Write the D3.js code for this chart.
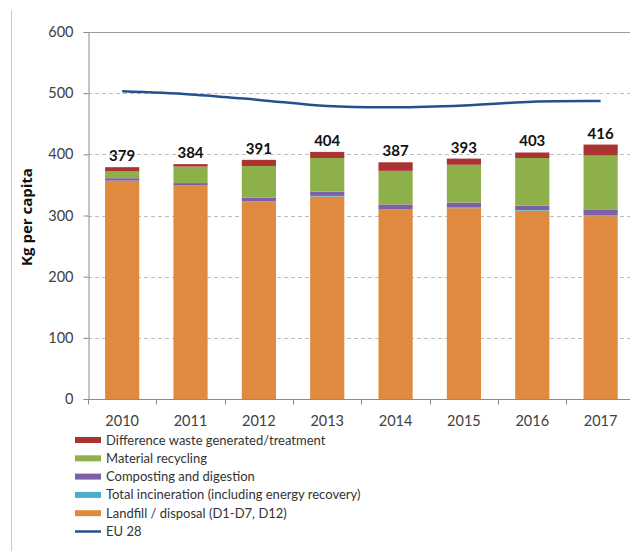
<!DOCTYPE html>
<html>
<head>
<meta charset="utf-8">
<script src="https://cdn.jsdelivr.net/npm/d3@7"></script>
<style>
  html, body { margin: 0; padding: 0; background: #fff; }
  svg { display: block; }
  text { font-family: Lato, "Open Sans", sans-serif; }
</style>
</head>
<body>
<svg id="chart" width="630" height="551"></svg>
<script>
const years = ["2010", "2011", "2012", "2013", "2014", "2015", "2016", "2017"];
const landfill    = [357, 349, 322, 331, 309, 312, 308, 299];
const incineration = [0, 0, 1, 1, 1, 1, 1, 1];
const composting  = [4, 4, 6, 7, 8, 8, 7, 10];
const recycling   = [11, 27, 52, 55, 55, 62, 78, 88];
const difference  = [7, 4, 10, 10, 14, 10, 9, 18];
const totals      = [379, 384, 391, 404, 387, 393, 403, 416];
const eu28        = [503, 498, 489, 479, 477, 480, 486, 487];
const yTicks      = [0, 100, 200, 300, 400, 500, 600];

const seriesNames = [
  "Landfill / disposal (D1-D7, D12)",
  "Total incineration (including energy recovery)",
  "Composting and digestion",
  "Material recycling",
  "Difference waste generated/treatment"
];
const seriesColors = ["#df8a3e", "#4aaec8", "#7e60a8", "#8eb04b", "#a93432"];
const seriesValues = [landfill, incineration, composting, recycling, difference];

const svg = d3.select("#chart");
const x0 = 88, yTop = 32, yBottom = 399;
const step = 68.35;

const x = d3.scaleBand().domain(years).range([x0, x0 + step * years.length])
  .paddingInner(0.5).paddingOuter(0.25);
const y = d3.scaleLinear().domain([0, 600]).range([yBottom, yTop]);

// outer frame (left edge)
svg.append("line").attr("x1", 11.5).attr("x2", 11.5).attr("y1", 10).attr("y2", 551)
  .attr("stroke", "#c8c8c8").attr("stroke-width", 1);

// gridlines
svg.append("g").selectAll("line").data(yTicks.filter(d => d > 0)).join("line")
  .attr("x1", x0).attr("x2", 630)
  .attr("y1", d => Math.round(y(d)) + 0.5).attr("y2", d => Math.round(y(d)) + 0.5)
  .attr("stroke", d => d === 600 ? "#9a9a9a" : "#bdbdbd")
  .attr("stroke-width", 1)
  .attr("stroke-dasharray", d => d === 600 ? null : "4,3");

// stacked bars
const table = years.map((yr, i) => {
  const o = { year: yr };
  seriesNames.forEach((s, k) => o[s] = seriesValues[k][i]);
  return o;
});
const stacked = d3.stack().keys(seriesNames)(table);
svg.append("g").selectAll("g").data(stacked).join("g")
  .attr("fill", (d, k) => seriesColors[k])
  .selectAll("rect").data(d => d).join("rect")
  .attr("x", d => x(d.data.year))
  .attr("width", x.bandwidth())
  .attr("y", d => y(d[1]))
  .attr("height", d => y(d[0]) - y(d[1]));

// total labels
svg.append("g").selectAll("text").data(years).join("text")
  .attr("x", d => x(d) + x.bandwidth() / 2)
  .attr("y", (d, i) => y(totals[i]) - 6)
  .attr("text-anchor", "middle")
  .attr("font-weight", "bold")
  .attr("font-size", "15px")
  .attr("fill", "#111")
  .text((d, i) => totals[i]);

// EU 28 line
const line = d3.line()
  .x((d, i) => x(years[i]) + x.bandwidth() / 2)
  .y(d => y(d))
  .curve(d3.curveCatmullRom.alpha(0.5));
svg.append("path").datum(eu28).attr("d", line)
  .attr("fill", "none").attr("stroke", "#24508f").attr("stroke-width", 2.5);

// y axis
const yAxis = d3.axisLeft(y).tickValues(yTicks).tickSize(5).tickPadding(10);
const gy = svg.append("g").attr("transform", `translate(${x0 + 0.5},0)`).call(yAxis);
gy.select(".domain").attr("stroke", "#8c8c8c");
gy.selectAll(".tick line").attr("stroke", "#8c8c8c");
gy.selectAll(".tick text").attr("font-size", "14.5px").attr("fill", "#404040")
  .style("font-family", "Lato, sans-serif");

// x axis
const gx = svg.append("g").attr("transform", `translate(0,${yBottom + 0.5})`);
gx.append("line").attr("x1", x0).attr("x2", 630).attr("stroke", "#8c8c8c");
const boundaries = years.map(d => x(d) - x.step() * 0.25).concat([x(years[years.length - 1]) + x.bandwidth() + x.step() * 0.25]);
gx.selectAll("line.tk").data(boundaries).join("line").attr("class", "tk")
  .attr("x1", d => Math.round(d) + 0.5).attr("x2", d => Math.round(d) + 0.5)
  .attr("y1", 0).attr("y2", 5).attr("stroke", "#8c8c8c");
gx.selectAll("text").data(years).join("text")
  .attr("x", d => x(d) + x.bandwidth() / 2)
  .attr("y", 26.5)
  .attr("text-anchor", "middle")
  .attr("font-size", "14.5px")
  .attr("fill", "#404040")
  .text(d => d);

// y axis title
svg.append("text")
  .attr("transform", "translate(32,217) rotate(-90)")
  .attr("text-anchor", "middle")
  .attr("font-weight", "bold")
  .attr("font-size", "15px")
  .style("font-family", "'Open Sans', sans-serif")
  .attr("fill", "#111")
  .text("Kg per capita");

// legend
const legendItems = [
  { name: "Difference waste generated/treatment", color: seriesColors[4], type: "rect" },
  { name: "Material recycling", color: seriesColors[3], type: "rect" },
  { name: "Composting and digestion", color: seriesColors[2], type: "rect" },
  { name: "Total incineration (including energy recovery)", color: seriesColors[1], type: "rect" },
  { name: "Landfill / disposal (D1-D7, D12)", color: seriesColors[0], type: "rect" },
  { name: "EU 28", color: "#24508f", type: "line" }
];
const lg = svg.append("g").selectAll("g").data(legendItems).join("g")
  .attr("transform", (d, i) => `translate(75,${440 + i * 18.3})`);
lg.filter(d => d.type === "rect").append("rect")
  .attr("x", 0).attr("y", -3).attr("width", 26).attr("height", 6)
  .attr("fill", d => d.color);
lg.filter(d => d.type === "line").append("line")
  .attr("x1", 0).attr("x2", 26).attr("y1", 0).attr("y2", 0)
  .attr("stroke", d => d.color).attr("stroke-width", 2.5);
lg.append("text")
  .attr("x", 31).attr("y", 0).attr("dy", "0.35em")
  .attr("font-size", "13px").attr("fill", "#333")
  .text(d => d.name);
</script>
</body>
</html>
